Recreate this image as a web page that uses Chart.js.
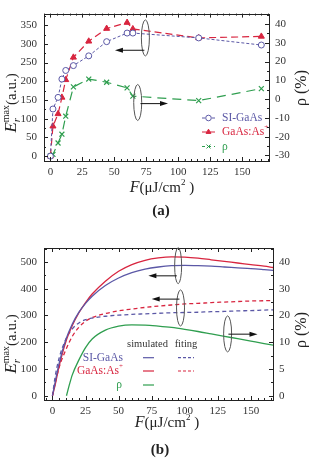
<!DOCTYPE html>
<html>
<head>
<meta charset="utf-8">
<script src="https://cdn.jsdelivr.net/npm/chart.js@4.4.0/dist/chart.umd.min.js"></script>
<style>
  html, body { margin: 0; padding: 0; background: #fff; }
  .wrap { position: absolute; left: 0; width: 309px; }
  #wa { top: 0; height: 230px; }
  #wb { top: 230px; height: 231px; }
</style>
</head>
<body>
<div class="wrap" id="wa"><canvas id="chartA" width="309" height="230"></canvas></div>
<div class="wrap" id="wb"><canvas id="chartB" width="309" height="231"></canvas></div>
<script>
// (a) measured points
const fluenceA = [0, 2, 6, 9, 12, 18, 30, 44, 60, 64.5, 116, 165];
const siGaAsA = [0, 126, 157, 206, 229, 242, 268, 306, 329, 329, 316, 297];
const gaAsAsA = [0, 80, 113, 157, 204, 264, 307, 341, 357, 340, 316, 320];
const rhoA = [-30.3, -29.5, -23.4, -18.7, -9.1, 6.5, 10.7, 9, 6, 1.6, -0.8, 5.6];
const xTicksA = [0, 25, 50, 75, 100, 125, 150];
const leftTicksA = [0, 50, 100, 150, 200, 250, 300, 350];
const rightTicksA = [-30, -20, -10, 0, 10, 20, 30, 40];

// (b) simulated / fitting curves
const fluenceB = [0, 2, 5, 10, 15, 20, 25, 30, 40, 50, 60, 70, 80, 90, 100, 110, 120, 130, 140, 150, 160, 167];
const siSimB = [0, 50, 120, 208, 268, 312, 345, 372, 412, 440, 460, 473, 481, 486, 487, 486, 484, 481, 478, 475, 471, 468];
const gaSimB = [0, 40, 110, 200, 262, 310, 348, 380, 428, 465, 490, 506, 515, 519, 518, 514, 508, 502, 496, 490, 484, 479];
const siFitB = [0, 70, 140, 210, 250, 272, 284, 290, 297, 301, 304, 306, 308, 310, 311, 312, 314, 315, 317, 318, 320, 321];
const gaFitB = [0, 45, 105, 170, 222, 256, 278, 292, 307, 317, 324, 330, 335, 339, 343, 345, 348, 350, 352, 354, 355, 356];
const rhoFluenceB = [10.6, 13, 15, 20, 25, 30, 40, 50, 60, 70, 80, 90, 100, 110, 120, 130, 140, 150, 160, 167];
const rhoB = [0, 0.45, 0.78, 1.34, 1.8, 2.12, 2.45, 2.6, 2.65, 2.64, 2.6, 2.55, 2.48, 2.4, 2.31, 2.22, 2.13, 2.04, 1.95, 1.89];
const xTicksB = [0, 25, 50, 75, 100, 125, 150];
const leftTicksB = [0, 100, 200, 300, 400, 500];
const rightLabelsB = ['0', '5', '10', '20', '30', '40'];

const SERIF = '"Liberation Serif", "DejaVu Serif", serif';
const BLUE = '#5b58a6';
const RED = '#d8253f';
const GREEN = '#2f9e4f';

const pts = (xs, ys) => xs.map((x, i) => ({ x: x, y: ys[i] }));

// draw a row of text pieces (italic, sub/superscript) optionally rotated
function drawSegs(ctx, segs, cx, cy, rot, color) {
    ctx.save();
    ctx.translate(cx, cy);
    ctx.rotate(rot || 0);
    ctx.textBaseline = 'middle';
    ctx.textAlign = 'left';
    ctx.fillStyle = color || '#222';
    let w = 0;
    segs.forEach(s => {
        ctx.font = s.font;
        s.w = ctx.measureText(s.t).width;
        if (s.adv !== false) w += s.w;
    });
    let x = -w / 2;
    segs.forEach(s => {
        ctx.font = s.font;
        ctx.fillText(s.t, x, s.dy || 0);
        if (s.adv !== false) x += s.w;
    });
    ctx.restore();
}

// left-aligned coloured label made of pieces, returns nothing
function drawLabel(ctx, segs, x, y, color) {
    ctx.save();
    ctx.textBaseline = 'middle';
    ctx.textAlign = 'left';
    ctx.fillStyle = color;
    segs.forEach(s => {
        ctx.font = s.font;
        ctx.fillText(s.t, x, y + (s.dy || 0));
        x += ctx.measureText(s.t).width;
    });
    ctx.restore();
}

function labelWidth(ctx, segs) {
    let w = 0;
    ctx.save();
    segs.forEach(s => { ctx.font = s.font; w += ctx.measureText(s.t).width; });
    ctx.restore();
    return w;
}

function drawEllipse(ctx, x, y, rx, ry) {
    ctx.save();
    ctx.strokeStyle = '#555';
    ctx.lineWidth = 1;
    ctx.beginPath();
    ctx.ellipse(x, y, rx, ry, 0, 0, Math.PI * 2);
    ctx.stroke();
    ctx.restore();
}

function drawArrow(ctx, x1, y, x2) {
    const dir = x2 > x1 ? 1 : -1;
    ctx.save();
    ctx.strokeStyle = '#111';
    ctx.fillStyle = '#111';
    ctx.lineWidth = 1;
    ctx.beginPath();
    ctx.moveTo(x1, y);
    ctx.lineTo(x2 - dir * 6, y);
    ctx.stroke();
    ctx.beginPath();
    ctx.moveTo(x2, y);
    ctx.lineTo(x2 - dir * 8, y - 2.5);
    ctx.lineTo(x2 - dir * 8, y + 2.5);
    ctx.closePath();
    ctx.fill();
    ctx.restore();
}

// frame with inward major/minor ticks
function drawFrame(chart, xMinor, yMinor, rMinor) {
    const ctx = chart.ctx;
    const a = chart.chartArea;
    const sx = chart.scales.x, sy = chart.scales.y, sr = chart.scales.y2;
    ctx.save();
    ctx.strokeStyle = '#222';
    ctx.lineWidth = 1;
    ctx.strokeRect(Math.round(a.left) + 0.5, Math.round(a.top) + 0.5, Math.round(a.right - a.left), Math.round(a.bottom - a.top));
    ctx.beginPath();
    const tick = (x1, y1, x2, y2) => { ctx.moveTo(x1, y1); ctx.lineTo(x2, y2); };
    for (let v = Math.ceil(sx.min / xMinor) * xMinor; v <= sx.max; v += xMinor) {
        const px = Math.round(sx.getPixelForValue(v)) + 0.5;
        const len = v % 25 === 0 ? 4 : 2;
        tick(px, a.bottom, px, a.bottom - len);
        tick(px, a.top, px, a.top + len);
    }
    sy.ticks.forEach(t => {
        const py = Math.round(sy.getPixelForValue(t.value)) + 0.5;
        tick(a.left, py, a.left + 4, py);
    });
    for (let v = Math.ceil(sy.min / yMinor) * yMinor; v <= sy.max; v += yMinor) {
        const py = Math.round(sy.getPixelForValue(v)) + 0.5;
        tick(a.left, py, a.left + 2, py);
    }
    sr.ticks.forEach(t => {
        const py = Math.round(sr.getPixelForValue(t.value)) + 0.5;
        tick(a.right, py, a.right - 4, py);
    });
    for (let v = Math.ceil(sr.min / rMinor) * rMinor; v <= sr.max; v += rMinor) {
        const py = Math.round(sr.getPixelForValue(v)) + 0.5;
        tick(a.right, py, a.right - 2, py);
    }
    ctx.stroke();
    ctx.restore();
}

const leftTitle = [
    { t: 'E', font: 'italic 17px ' + SERIF },
    { t: 'r', font: 'italic 11px ' + SERIF, dy: 5, adv: false },
    { t: 'max', font: '10px ' + SERIF, dy: -6 },
    { t: '(a.u.)', font: '15px ' + SERIF }
];
const rhoTitle = [{ t: 'ρ (%)', font: '16px ' + SERIF }];
const xTitle = [
    { t: 'F', font: 'italic 16px ' + SERIF },
    { t: '(μJ/cm', font: '15px ' + SERIF },
    { t: '2', font: '9px ' + SERIF, dy: -5 },
    { t: ' )', font: '15px ' + SERIF }
];
const LEG = '11.5px ' + SERIF;

const tickFont = { family: SERIF, size: 11 };

function baseScales(cfg) {
    return {
        x: {
            type: 'linear', min: cfg.xMin, max: cfg.xMax,
            grid: { display: false, drawTicks: false }, border: { display: false },
            afterBuildTicks: s => { s.ticks = cfg.xTicks.map(v => ({ value: v })); },
            ticks: { font: tickFont, color: '#333', padding: 5, maxRotation: 0 },
            afterFit: s => { s.height = cfg.xHeight; }
        },
        y: {
            type: 'linear', position: 'left', min: cfg.yMin, max: cfg.yMax,
            grid: { display: false, drawTicks: false }, border: { display: false },
            afterBuildTicks: s => { s.ticks = cfg.yTicks.map(v => ({ value: v })); },
            ticks: { font: tickFont, color: '#333', padding: 7 },
            afterFit: s => { s.width = 44; }
        },
        y2: {
            type: 'linear', position: 'right', min: cfg.rMin, max: cfg.rMax,
            grid: { display: false, drawTicks: false }, border: { display: false },
            afterBuildTicks: s => { s.ticks = cfg.rTicks.map(v => ({ value: v })); },
            ticks: { font: tickFont, color: '#333', padding: 6, callback: cfg.rCallback },
            afterFit: s => { s.width = cfg.rWidth; }
        }
    };
}

// ---------- chart (a) ----------
const decoA = {
    id: 'decoA',
    afterDraw(chart) {
        const ctx = chart.ctx;
        const sx = chart.scales.x, sy = chart.scales.y, sr = chart.scales.y2;
        drawFrame(chart, 5, 25, 5);
        // annotations
        drawEllipse(ctx, sx.getPixelForValue(74.3), sy.getPixelForValue(316), 4, 18);
        drawArrow(ctx, sx.getPixelForValue(73.5), sy.getPixelForValue(283), sx.getPixelForValue(50.5));
        drawEllipse(ctx, sx.getPixelForValue(68.3), sr.getPixelForValue(-1.8), 4, 18);
        drawArrow(ctx, sx.getPixelForValue(70.5), sr.getPixelForValue(-2.4), sx.getPixelForValue(92));
        // legend
        const rows = [
            { label: [{ t: 'SI-GaAs', font: LEG }], color: BLUE, style: 'circle', fill: '#fff', dash: [3, 2] },
            { label: [{ t: 'GaAs:As', font: LEG }, { t: '+', font: '7px ' + SERIF, dy: -5 }], color: RED, style: 'triangle', fill: RED, dash: [5, 3] },
            { label: [{ t: 'ρ', font: LEG }], color: GREEN, style: 'crossRot', fill: GREEN, dash: [3, 3] }
        ];
        const rowY = [118, 132, 146.5];
        rows.forEach((r, i) => {
            const y = rowY[i];
            ctx.save();
            ctx.strokeStyle = r.color;
            ctx.fillStyle = r.fill;
            ctx.lineWidth = 1;
            ctx.setLineDash(r.dash);
            ctx.beginPath();
            ctx.moveTo(202, y);
            ctx.lineTo(215, y);
            ctx.stroke();
            ctx.setLineDash([]);
            Chart.helpers.drawPoint(ctx, { pointStyle: r.style, radius: 2.8, borderWidth: 1 }, 208.5, y);
            ctx.restore();
            drawLabel(ctx, r.label, 222, y, r.color);
        });
        // titles
        drawSegs(ctx, leftTitle, 12, 103, -Math.PI / 2);
        drawSegs(ctx, rhoTitle, 302, 88, -Math.PI / 2);
        drawSegs(ctx, xTitle, 162, 188, 0);
        drawSegs(ctx, [{ t: '(a)', font: 'bold 15px ' + SERIF }], 161, 211, 0);
    }
};

new Chart(document.getElementById('chartA'), {
    type: 'line',
    data: {
        datasets: [
            {
                label: 'SI-GaAs', data: pts(fluenceA, siGaAsA), yAxisID: 'y',
                borderColor: BLUE, backgroundColor: '#fff', borderWidth: 1, borderDash: [3, 2],
                pointStyle: 'circle', pointRadius: 3, pointBorderWidth: 1, pointBorderColor: BLUE
            },
            {
                label: 'GaAs:As+', data: pts(fluenceA, gaAsAsA), yAxisID: 'y',
                borderColor: RED, backgroundColor: RED, borderWidth: 1.2, borderDash: [7, 4],
                pointStyle: 'triangle', pointRadius: 3.5, pointBorderWidth: 1
            },
            {
                label: 'ρ', data: pts(fluenceA, rhoA), yAxisID: 'y2',
                borderColor: GREEN, backgroundColor: GREEN, borderWidth: 1.2, borderDash: [9, 6],
                pointStyle: 'crossRot', pointRadius: 3.5, pointBorderWidth: 1.2
            }
        ]
    },
    options: {
        responsive: false,
        animation: false,
        layout: { padding: { top: 10, left: 0, right: 0, bottom: 0 } },
        plugins: { legend: { display: false }, tooltip: { enabled: false } },
        scales: baseScales({
            xMin: -5, xMax: 171, xTicks: xTicksA, xHeight: 69,
            yMin: -13, yMax: 381, yTicks: leftTicksA,
            rMin: -33, rMax: 45.6, rTicks: rightTicksA, rWidth: 40
        })
    },
    plugins: [decoA]
});

// ---------- chart (b) ----------
const decoB = {
    id: 'decoB',
    afterDraw(chart) {
        const ctx = chart.ctx;
        const sx = chart.scales.x, sy = chart.scales.y;
        drawFrame(chart, 5, 50, 0.5);
        drawEllipse(ctx, sx.getPixelForValue(95), sy.getPixelForValue(486), 3.5, 18);
        drawArrow(ctx, sx.getPixelForValue(94), sy.getPixelForValue(448), sx.getPixelForValue(72.5));
        drawEllipse(ctx, sx.getPixelForValue(96.8), sy.getPixelForValue(328), 4, 18);
        drawArrow(ctx, sx.getPixelForValue(96), sy.getPixelForValue(361), sx.getPixelForValue(75));
        drawEllipse(ctx, sx.getPixelForValue(132.4), sy.getPixelForValue(231), 4, 18);
        drawArrow(ctx, sx.getPixelForValue(133), sy.getPixelForValue(230), sx.getPixelForValue(155));
        // legend table
        ctx.save();
        ctx.textBaseline = 'middle';
        ctx.textAlign = 'center';
        ctx.fillStyle = '#333';
        ctx.font = '10.5px ' + SERIF;
        ctx.fillText('simulated', 147.5, 114);
        ctx.fillText('fiting', 186, 114);
        ctx.restore();
        const rows = [
            { segs: [{ t: 'SI-GaAs', font: LEG }], color: BLUE, fit: true },
            { segs: [{ t: 'GaAs:As', font: LEG }, { t: '+', font: '7px ' + SERIF, dy: -5 }], color: RED, fit: true },
            { segs: [{ t: 'ρ', font: LEG }], color: GREEN, fit: false }
        ];
        const rowY = [127.7, 141, 155];
        rows.forEach((r, i) => {
            const y = rowY[i];
            const w = labelWidth(ctx, r.segs);
            drawLabel(ctx, r.segs, i === 2 ? 119 - w / 2 : 123 - w, y, r.color);
            ctx.save();
            ctx.strokeStyle = r.color;
            ctx.lineWidth = 1.2;
            ctx.beginPath();
            ctx.moveTo(143, y);
            ctx.lineTo(154, y);
            ctx.stroke();
            if (r.fit) {
                ctx.setLineDash([3, 2]);
                ctx.beginPath();
                ctx.moveTo(178, y);
                ctx.lineTo(194, y);
                ctx.stroke();
            }
            ctx.restore();
        });
        drawSegs(ctx, leftTitle, 12, 114, -Math.PI / 2);
        drawSegs(ctx, rhoTitle, 302, 100, -Math.PI / 2);
        drawSegs(ctx, xTitle, 167, 193, 0);
        drawSegs(ctx, [{ t: '(b)', font: 'bold 15px ' + SERIF }], 160, 220, 0);
    }
};

const curve = (label, xs, ys, color, dash, axis) => ({
    label: label, data: pts(xs, ys), yAxisID: axis || 'y',
    borderColor: color, borderWidth: 1.3, borderDash: dash || [],
    pointRadius: 0, cubicInterpolationMode: 'monotone'
});

new Chart(document.getElementById('chartB'), {
    type: 'line',
    data: {
        datasets: [
            curve('SI-GaAs simulated', fluenceB, siSimB, BLUE),
            curve('GaAs:As+ simulated', fluenceB, gaSimB, RED),
            curve('SI-GaAs fitting', fluenceB, siFitB, BLUE, [4, 3]),
            curve('GaAs:As+ fitting', fluenceB, gaFitB, RED, [4, 3]),
            curve('ρ', rhoFluenceB, rhoB, GREEN, [], 'y2')
        ]
    },
    options: {
        responsive: false,
        animation: false,
        layout: { padding: { top: 18, left: 0, right: 0, bottom: 0 } },
        plugins: { legend: { display: false }, tooltip: { enabled: false } },
        scales: baseScales({
            xMin: -6.4, xMax: 166.7, xTicks: xTicksB, xHeight: 61,
            yMin: -16, yMax: 552, yTicks: leftTicksB,
            rMin: -0.16, rMax: 5.52, rTicks: rightLabelsB.map((l, i) => i), rWidth: 36,
            rCallback: v => rightLabelsB[v]
        })
    },
    plugins: [decoB]
});
</script>
</body>
</html>
